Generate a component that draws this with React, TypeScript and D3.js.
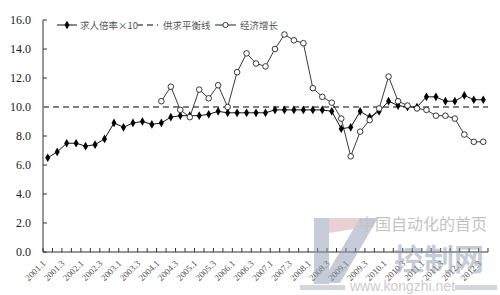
import React from "react";
import * as d3 from "d3";

const categories: string[] = [
  "2001.1","2001.2","2001.3","2001.4","2002.1","2002.2","2002.3","2002.4",
  "2003.1","2003.2","2003.3","2003.4","2004.1","2004.2","2004.3","2004.4",
  "2005.1","2005.2","2005.3","2005.4","2006.1","2006.2","2006.3","2006.4",
  "2007.1","2007.2","2007.3","2007.4","2008.1","2008.2","2008.3","2008.4",
  "2009.1","2009.2","2009.3","2009.4","2010.1","2010.2","2010.3","2010.4",
  "2011.1","2011.2","2011.3","2011.4","2012.1","2012.2","2012.3",
];

const jobRatio: number[] = [
  6.5, 6.9, 7.5, 7.5, 7.3, 7.4, 7.8, 8.9,
  8.6, 8.9, 9.0, 8.8, 8.9, 9.3, 9.4, 9.4,
  9.4, 9.5, 9.7, 9.6, 9.6, 9.6, 9.6, 9.6,
  9.8, 9.8, 9.8, 9.8, 9.8, 9.8, 9.7, 8.5,
  8.6, 9.7, 9.3, 9.7, 10.4, 10.1, 10.0, 10.0,
  10.7, 10.7, 10.4, 10.4, 10.8, 10.5, 10.5,
];

const growthCategories: string[] = categories.slice(12);
const growth: number[] = [
  10.4, 11.4, 9.8, 9.3, 11.2, 10.6, 11.5, 10.0,
  12.4, 13.7, 13.0, 12.8, 14.0, 15.0, 14.6, 14.4,
  11.3, 10.7, 10.3, 9.2, 6.6, 8.3, 9.1, 9.9,
  12.1, 10.4, 10.1, 9.9, 9.8, 9.4, 9.4, 9.2,
  8.1, 7.6, 7.6,
];

const balanceValue = 10.0;
const yTicks: number[] = [0, 2, 4, 6, 8, 10, 12, 14, 16];
const seriesNames: string[] = ["求人倍率×10", "供求平衡线", "经济增长"];

export default function App() {
  const W = 500, H = 295;
  const left = 43, right = 488, top = 20, bottom = 252;
  const x = d3.scaleBand<string>().domain(categories).range([left, right]).padding(0);
  const y = d3.scaleLinear().domain([0, 16]).range([bottom, top]);
  const cx = (c: string) => (x(c) as number) + x.bandwidth() / 2;

  const line = d3.line<[string, number]>().x(d => cx(d[0])).y(d => y(d[1]));
  const blackPts: [string, number][] = categories.map((c, i) => [c, jobRatio[i]]);
  const growthPts: [string, number][] = growthCategories.map((c, i) => [c, growth[i]]);
  const diamond = d3.symbol().type(d3.symbolDiamond).size(22)() as string;

  const serif = "'Liberation Serif', 'DejaVu Serif', serif";
  const cjk = "'Noto Sans CJK SC', 'Noto Sans', sans-serif";

  const tickXs = categories.map(c => x(c) as number).concat([right]);

  return (
    <svg width={W} height={H} style={{ position: "absolute", left: 0, top: 0, background: "#fff" }}>
      <rect x={0} y={0} width={W} height={H} fill="#fff" />
      {/* axes */}
      <line x1={left} x2={left} y1={top} y2={bottom} stroke="#333" strokeWidth={1} />
      <line x1={left} x2={right} y1={bottom} y2={bottom} stroke="#333" strokeWidth={1} />
      {yTicks.map(t => (
        <g key={t}>
          <line x1={left} x2={left + 4} y1={y(t)} y2={y(t)} stroke="#333" />
          <text x={31} y={y(t) + 4} textAnchor="end" fontFamily={serif} fontSize={12} fill="#222">
            {t.toFixed(1)}
          </text>
        </g>
      ))}
      {tickXs.map((tx, i) => (
        <line key={i} x1={tx} x2={tx} y1={bottom} y2={bottom - 4} stroke="#333" />
      ))}
      {categories.map((c, i) =>
        i % 2 === 0 ? (
          <text
            key={c}
            transform={`translate(${cx(c) - 1.5},${bottom + 12}) rotate(-45)`}
            textAnchor="end"
            fontFamily={serif}
            fontSize={9}
            fill="#555"
          >
            {c}
          </text>
        ) : null
      )}
      {/* balance line */}
      <line x1={left} x2={right} y1={y(balanceValue)} y2={y(balanceValue)} stroke="#808080" strokeWidth={2} strokeDasharray="6,4" />
      {/* growth series */}
      <path d={line(growthPts) as string} fill="none" stroke="#222" strokeWidth={0.9} />
      {/* job ratio series */}
      <path d={line(blackPts) as string} fill="none" stroke="#111" strokeWidth={1} />
      {blackPts.map(([c, v]) => (
        <path key={c} d={diamond} transform={`translate(${cx(c)},${y(v)})`} fill="#000" />
      ))}
      {growthPts.map(([c, v]) => (
        <circle key={c} cx={cx(c)} cy={y(v)} r={2.8} fill="#fff" stroke="#222" strokeWidth={0.9} />
      ))}
      {/* legend */}
      <line x1={57} x2={77} y1={25} y2={25} stroke="#111" />
      <path d={diamond} transform="translate(67,25)" fill="#000" />
      <text x={80} y={28.5} fontFamily={cjk} fontSize={9.5} fill="#555">{seriesNames[0]}</text>
      <line x1={137} x2={158} y1={25} y2={25} stroke="#808080" strokeWidth={2} strokeDasharray="6,4" />
      <text x={163} y={28.5} fontFamily={cjk} fontSize={9.5} fill="#555">{seriesNames[1]}</text>
      <line x1={215} x2={236} y1={25} y2={25} stroke="#222" />
      <circle cx={225.5} cy={25} r={2.6} fill="#fff" stroke="#222" strokeWidth={0.9} />
      <text x={240} y={28.5} fontFamily={cjk} fontSize={9.5} fill="#555">{seriesNames[2]}</text>
      {/* watermark */}
      <g opacity={0.5}>
        <rect x={314} y={218} width={15} height={66} fill="#8d9ab0" />
        <polygon points="329,218 372,218 372,226 329,233" fill="#d8a0a6" />
        <polygon points="360,218 378,218 340,283 329,283 329,270" fill="#8d9ab0" />
        <rect x={300} y={285} width={45} height={5} fill="#a6b0c0" />
        <rect x={455} y={285} width={42} height={5} fill="#a6b0c0" />
        <text x={359} y={230} fontFamily={cjk} fontSize={16} fill="#888">中国自动化的首页</text>
        <text x={394} y={270} fontFamily={cjk} fontSize={30} fontWeight="bold" fill="#8d9ab0">控制网</text>
        <text x={350} y={291} fontFamily="'Liberation Sans', sans-serif" fontSize={14} fill="#999">www.kongzhi.net</text>
      </g>
    </svg>
  );
}
